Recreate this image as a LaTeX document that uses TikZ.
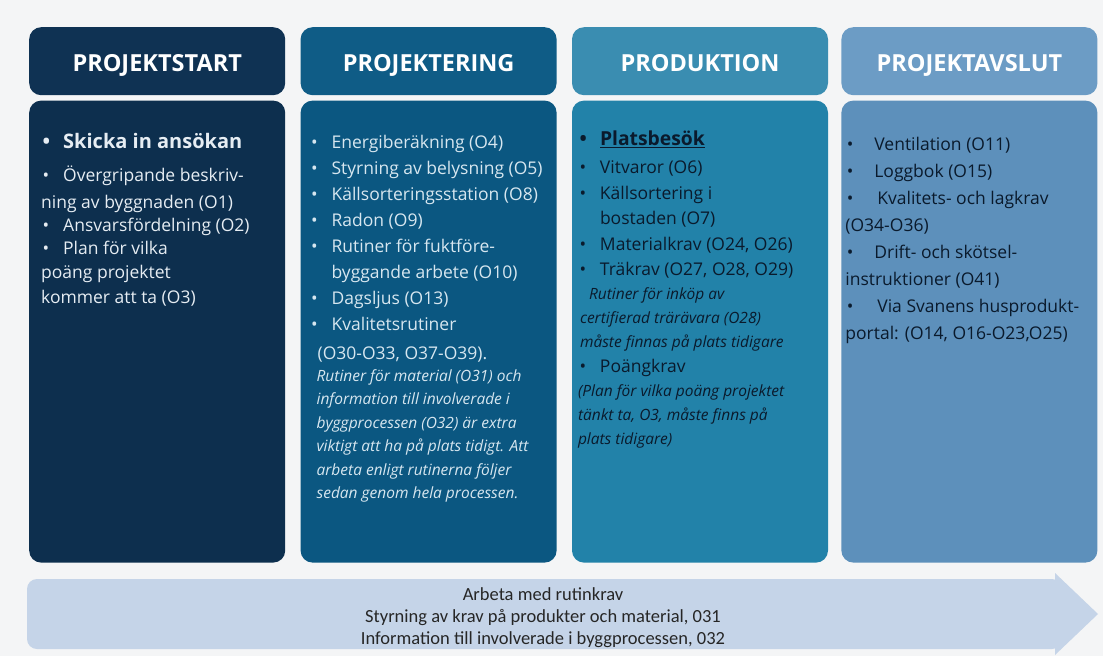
\documentclass[tikz,border=0pt]{standalone}
\usepackage{fontspec}
\setmainfont{Open Sans}
\newfontfamily\flowfont{Carlito}
\usetikzlibrary{positioning}

\definecolor{pagebg}{HTML}{F4F5F6}
\definecolor{starthead}{HTML}{0F3253}
\definecolor{startbody}{HTML}{0D2F4E}
\definecolor{starttext}{HTML}{E6EDF3}
\definecolor{designhead}{HTML}{0F5C86}
\definecolor{designbody}{HTML}{0B5781}
\definecolor{designtext}{HTML}{D7E7F0}
\definecolor{prodhead}{HTML}{3A8DB1}
\definecolor{prodbody}{HTML}{2282A9}
\definecolor{closehead}{HTML}{6C9CC5}
\definecolor{closebody}{HTML}{5D90BB}
\definecolor{darktext}{HTML}{0A1A2C}
\definecolor{flowblue}{HTML}{C5D4E8}

% bullet with hanging text, and the matching indent for wrapped lines
\newcommand{\bul}[1][22pt]{\makebox[#1][l]{\hspace{1.5pt}\textbullet}}
\newcommand{\cont}[1][22pt]{\hspace*{#1}}
\newcommand{\note}{\fontsize{15.5}{18}\selectfont\itshape}

\begin{document}
\begin{tikzpicture}[
  x=1pt, y=-1pt,
  node distance=5pt and 15pt,
  phase/.style={rounded corners=12pt, minimum width=256pt, minimum height=68pt, inner sep=0pt, text height=21pt, text depth=0pt, text=white, font=\bfseries\fontsize{23.5}{27}\selectfont},
  body/.style={rounded corners=12pt, minimum width=256pt, minimum height=462pt, inner sep=0pt},
  items/.style={align=left, inner sep=0pt, font=\fontsize{17.5}{25.5}\selectfont},
  flowtext/.style={align=center, inner sep=0pt, text=black!85, font=\flowfont\fontsize{18.5}{22}\selectfont}
]
\fill[pagebg] (0,0) rectangle (1103,656);

% phase headers
\node[phase, fill=starthead, anchor=north west] (ph1) at (29,27) {PROJEKTSTART};
\node[phase, fill=designhead, right=of ph1] (ph2) {PROJEKTERING};
\node[phase, fill=prodhead, right=of ph2] (ph3) {PRODUKTION};
\node[phase, fill=closehead, right=13pt of ph3] (ph4) {PROJEKTAVSLUT};

% phase bodies
\node[body, fill=startbody, below=of ph1] (b1) {};
\node[body, fill=designbody, below=of ph2] (b2) {};
\node[body, fill=prodbody, below=of ph3] (b3) {};
\node[body, fill=closebody, below=of ph4] (b4) {};

\node[items, text=starttext, font=\fontsize{17.5}{24.5}\selectfont, below right=33pt and 12pt of b1.north west] (t1) {%
  {\fontsize{20}{24}\selectfont\bfseries\bul Skicka in ansökan}\\[8pt]
  \bul Övergripande beskriv-\\[2.5pt]
  ning av byggnaden (O1)\\[-1.5pt]
  \bul Ansvarsfördelning (O2)\\[-1.5pt]
  \bul Plan för vilka\\
  poäng projektet\\
  kommer att ta (O3)};

\node[items, text=designtext, font=\fontsize{17.5}{26}\selectfont, below right=35pt and 9pt of b2.north west] (t2) {%
  \bul Energiberäkning (O4)\\
  \bul Styrning av belysning (O5)\\
  \bul Källsorteringsstation (O8)\\
  \bul Radon (O9)\\
  \bul Rutiner för fuktföre-\\
  \cont byggande arbete (O10)\\
  \bul Dagsljus (O13)\\
  \bul Kvalitetsrutiner\\[3pt]
  \cont[8pt](O30-O33, O37-O39).\\[-4.5pt]
  {\note\hspace*{7pt}Rutiner för material (O31) och}\\[-2.5pt]
  {\note\hspace*{7pt}information till involverade i}\\[-2.5pt]
  {\note\hspace*{7pt}byggprocessen (O32) är extra}\\[-2.5pt]
  {\note\hspace*{7pt}viktigt att ha på plats tidigt. Att}\\[-2.5pt]
  {\note\hspace*{7pt}arbeta enligt rutinerna följer}\\[-2.5pt]
  {\note\hspace*{7pt}sedan genom hela processen.}};

\node[items, text=darktext, below right=30pt and 6pt of b3.north west] (t3) {%
  {\fontsize{19.3}{24}\selectfont\bfseries\bul\underline{Platsbesök}}\\[3pt]
  \bul Vitvaror (O6)\\
  \bul Källsortering i\\
  \cont bostaden (O7)\\
  \bul Materialkrav (O24, O26)\\
  \bul Träkrav (O27, O28, O29)\\[-2pt]
  {\note\hspace*{11pt}Rutiner för inköp av}\\[-1.5pt]
  {\note\hspace*{2pt}certifierad trärävara (O28)}\\[-1.5pt]
  {\note\hspace*{2pt}måste finnas på plats tidigare}\\
  \bul Poängkrav\\[-2pt]
  {\note (Plan för vilka poäng projektet}\\[-1.5pt]
  {\note tänkt ta, O3, måste finns på}\\[-1.5pt]
  {\note plats tidigare)}};

\node[items, text=darktext, font=\fontsize{17.5}{27}\selectfont, below right=37pt and 4pt of b4.north west] (t4) {%
  \bul[29pt]Ventilation (O11)\\
  \bul[29pt]Loggbok (O15)\\
  \bul[32pt]Kvalitets- och lagkrav\\
  (O34-O36)\\
  \bul[29pt]Drift- och skötsel-\\
  instruktioner (O41)\\
  \bul[32pt]Via Svanens husprodukt-\\
  portal: (O14, O16-O23,O25)};

% process arrow along the bottom
\fill[flowblue, rounded corners=10pt] (27,579) rectangle (1062,649);
\fill[flowblue] (1055,573) -- (1098,614) -- (1055,655) -- cycle;
\node[flowtext] (flow) at (543,618) {Arbeta med rutinkrav\\Styrning av krav på produkter och material, 031\\Information till involverade i byggprocessen, 032};
\end{tikzpicture}
\end{document}
